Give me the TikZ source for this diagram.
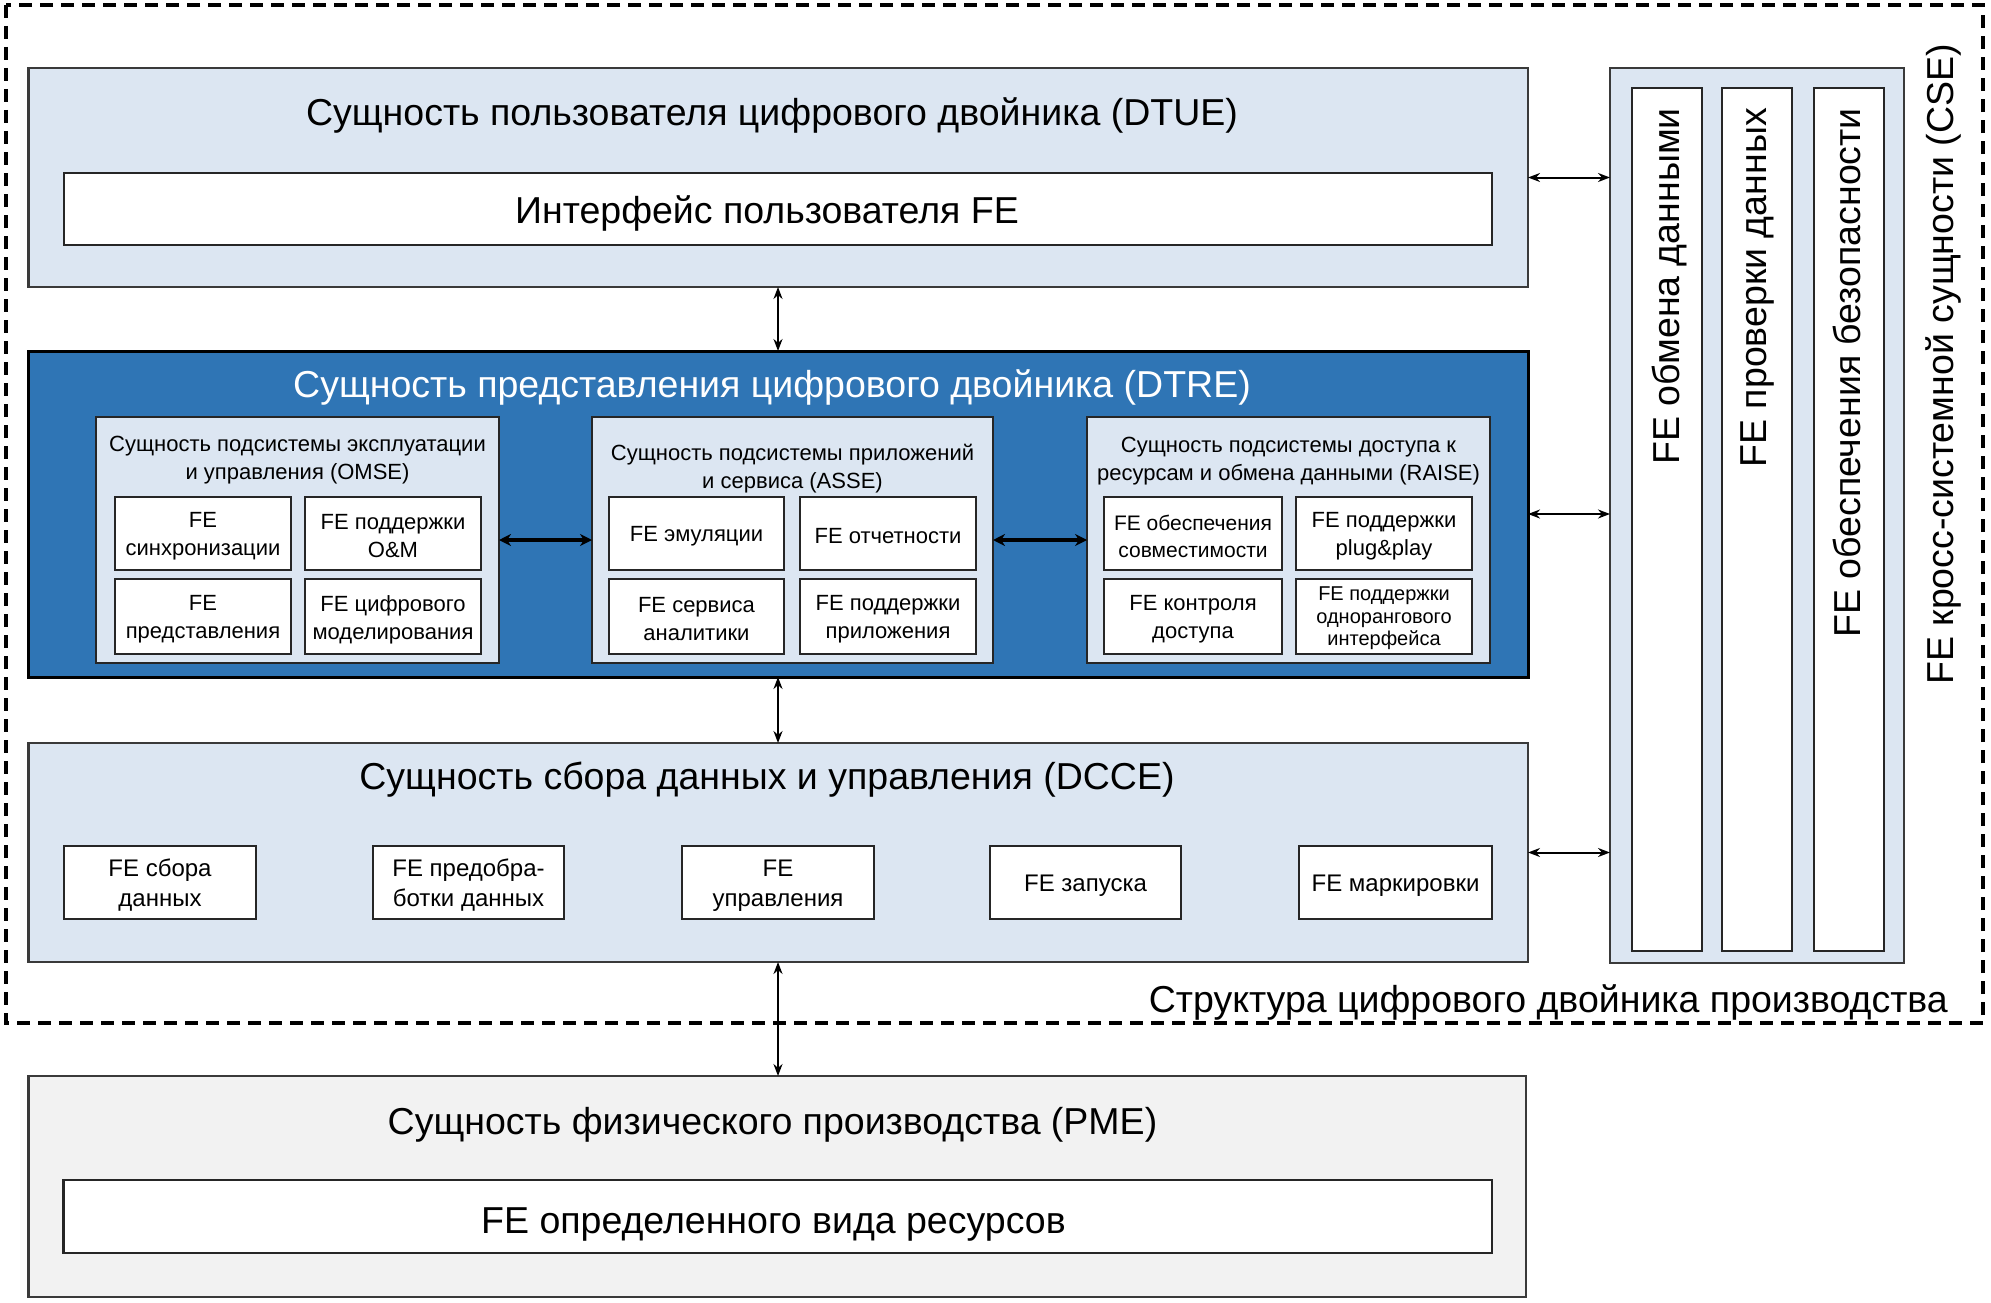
\documentclass[tikz,border=0pt]{standalone}
\usepackage{fontspec}
\setmainfont{Liberation Sans}
\usetikzlibrary{arrows.meta,fit}
\definecolor{lb}{HTML}{DCE6F2}
\definecolor{db}{HTML}{2F75B5}
\definecolor{lg}{HTML}{F2F2F2}
\definecolor{bd}{HTML}{3A3A3A}
\newcommand\fbig{\fontsize{37.5}{45}\selectfont}
\newcommand\fsml{\fontsize{22}{28}\selectfont}
\newcommand\fmid{\fontsize{24}{30}\selectfont}
\newcommand\bx[6]{\node[#1, fit={(#3,#4) (#5,#6)}] (#2) {};}
\tikzset{
  frame/.style={draw=bd, line width=2.2pt, inner sep=0pt, outer sep=0pt},
  ent/.style={frame, fill=lb},
  entdark/.style={draw=black, line width=3pt, fill=db, inner sep=0pt, outer sep=0pt},
  entgray/.style={frame, fill=lg},
  whitebox/.style={draw=black!85, line width=2.6pt, fill=white, inner sep=0pt, outer sep=0pt},
  sub/.style={draw=black!85, line width=2.4pt, fill=lb, inner sep=0pt, outer sep=0pt},
  base/.style={inner sep=0pt, align=center},
  rot/.style={base, font=\fbig, rotate=90, anchor=east},
  txt/.style={base, font=\fbig, yshift=-3pt},
  stxt/.style={base, font=\fsml, yshift=-3pt},
  rtxt/.style={base, font=\fontsize{21}{27}\selectfont, yshift=-3pt},
  ttxt/.style={base, font=\fontsize{20}{22.5}\selectfont, yshift=-2pt},
  mtxt/.style={base, font=\fmid, yshift=-3pt},
  arr/.style={{Stealth[length=12pt,width=9pt]}-{Stealth[length=12pt,width=9pt]}, line width=2pt},
  arrthick/.style={{Stealth[length=12pt,width=12pt]}-{Stealth[length=12pt,width=12pt]}, line width=3.5pt},
  outer/.style={draw=black, line width=3.5pt, dash pattern=on 13pt off 8pt}
}
\begin{document}
\begin{tikzpicture}[x=1pt,y=-1pt]
\useasboundingbox (0,0) rectangle (1991,1303);
% outer dashed frame
\draw[outer] (6,5) rectangle (1983,1023);
\node[txt, anchor=east] (struct) at (1948,999) {Структура цифрового двойника производства};
% DTUE
\bx{ent}{dtue}{28.5}{68}{1528}{287}
\node[txt] (dtuet) at (772,112) {Сущность пользователя цифрового двойника (DTUE)};
\bx{whitebox}{ui}{64}{173}{1492}{245}
\node[txt] (uit) at (767,210) {Интерфейс пользователя FE};
% DTRE
\bx{entdark}{dtre}{28.5}{351}{1528}{677}
\node[txt, text=white] (dtret) at (772,384) {Сущность представления цифрового двойника (DTRE)};
% OMSE
\bx{sub}{omse}{96}{417}{499}{663}
\node[stxt] at (297.5,457.5) {Сущность подсистемы эксплуатации\\и управления (OMSE)};
\bx{whitebox}{o1}{115}{497}{291}{570}
\bx{whitebox}{o2}{305}{497}{481}{570}
\bx{whitebox}{o3}{115}{579}{291}{654}
\bx{whitebox}{o4}{305}{579}{481}{654}
\node[stxt] at (o1) {FE\\синхронизации};
\node[stxt] at (o2) {FE поддержки\\O\&M};
\node[stxt] at (o3) {FE\\представления};
\node[stxt] at (o4) {FE цифрового\\моделирования};
% ASSE
\bx{sub}{asse}{592}{417}{993}{663}
\node[stxt] at (792.5,465.5) {Сущность подсистемы приложений\\и сервиса (ASSE)};
\bx{whitebox}{a1}{609}{497}{784}{570}
\bx{whitebox}{a2}{800}{497}{976}{570}
\bx{whitebox}{a3}{609}{579}{784}{654}
\bx{whitebox}{a4}{800}{579}{976}{654}
\node[stxt] at (a1) {FE эмуляции};
\node[stxt] at (a2) {FE отчетности};
\node[stxt] at (a3) {FE сервиса\\аналитики};
\node[stxt] at (a4) {FE поддержки\\приложения};
% RAISE
\bx{sub}{raise}{1087}{417}{1490}{663}
\node[stxt] at (1288.5,458.5) {Сущность подсистемы доступа к\\ресурсам и обмена данными (RAISE)};
\bx{whitebox}{r1}{1104}{497}{1282}{570}
\bx{whitebox}{r2}{1296}{497}{1472}{570}
\bx{whitebox}{r3}{1104}{579}{1282}{654}
\bx{whitebox}{r4}{1296}{579}{1472}{654}
\node[rtxt] at (r1) {FE обеспечения\\совместимости};
\node[stxt] at (r2) {FE поддержки\\plug\&play};
\node[stxt] at (r3) {FE контроля\\доступа};
\node[ttxt] at (r4) {FE поддержки\\однорангового\\интерфейса};
% DCCE
\bx{ent}{dcce}{28.5}{743}{1528}{962}
\node[txt] (dccet) at (767,777) {Сущность сбора данных и управления (DCCE)};
\bx{whitebox}{d1}{64}{846}{256}{919}
\bx{whitebox}{d2}{373}{846}{564}{919}
\bx{whitebox}{d3}{682}{846}{874}{919}
\bx{whitebox}{d4}{990}{846}{1181}{919}
\bx{whitebox}{d5}{1299}{846}{1492}{919}
\node[mtxt] at (d1) {FE сбора\\данных};
\node[mtxt] at (d2) {FE предобра-\\ботки данных};
\node[mtxt] at (d3) {FE\\управления};
\node[mtxt] at (d4) {FE запуска};
\node[mtxt] at (d5) {FE маркировки};
% PME
\bx{entgray}{pme}{28.5}{1076}{1526}{1297}
\node[txt] (pmet) at (772.5,1122) {Сущность физического производства (PME)};
\bx{whitebox}{res}{63.5}{1180}{1492}{1253}
\node[txt] (rest) at (773.5,1221) {FE определенного вида ресурсов};
% CSE
\bx{ent}{cse}{1610}{68}{1904}{963}
\bx{whitebox}{c1}{1632}{88}{1702}{951}
\bx{whitebox}{c2}{1722}{88}{1792}{951}
\bx{whitebox}{c3}{1814}{88}{1884}{951}
\node[rot] at (1669,108) {FE обмена данными};
\node[rot] at (1757,108) {FE проверки данных};
\node[rot] at (1847,108) {FE обеспечения безопасности};
\node[rot] (cset) at (1943,44) {FE кросс-системной сущности (CSE)};
% connectors
\coordinate (ax) at (778,0);
\draw[arr] (ax |- dtue.south) -- (ax |- dtre.north);
\draw[arr] (ax |- dtre.south) -- (ax |- dcce.north);
\draw[arr] (ax |- dcce.south) -- (ax |- pme.north);
\draw[arr] (dtue.east) -- (dtue.east -| cse.west);
\draw[arr] (dtre.east) -- (dtre.east -| cse.west);
\draw[arr] (dcce.east) -- (dcce.east -| cse.west);
\draw[arrthick] (omse.east) -- (asse.west);
\draw[arrthick] (asse.east) -- (raise.west);
\end{tikzpicture}
\end{document}
